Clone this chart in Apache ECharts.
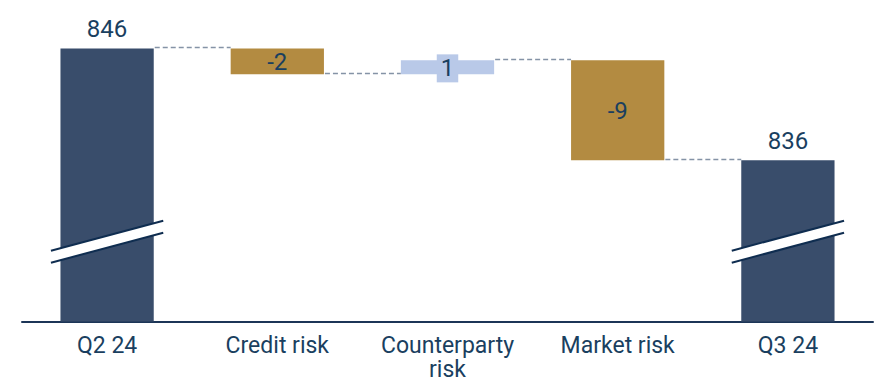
<!DOCTYPE html>
<html>
<head>
<meta charset="utf-8">
<script src="https://cdn.jsdelivr.net/npm/echarts@6/dist/echarts.min.js"></script>
<style>
html,body{margin:0;padding:0;background:#fff;}
#chart{width:882px;height:383px;}
</style>
</head>
<body>
<div id="chart"></div>
<script>
// ---- data ----
const categories = ['Q2 24', 'Credit risk', 'Counterparty\nrisk', 'Market risk', 'Q3 24'];
const values = [846, -2.32, 1.25, -8.93, 836];
const kinds = ['total', 'delta', 'delta', 'delta', 'total'];

// ---- styling / scale ----
const axisMin = 821.6;
const axisMax = 848;
const breakValue = 828.73;
const NAVY = '#394d6b';
const GOLD = '#b38b41';
const LIGHT = '#b9c9e8';
const TEXT = '#1a3f5f';
const FONT = 'Roboto';

// build waterfall items from data
const items = [];
let running = 0;
values.forEach((v, i) => {
  let low, high, end;
  if (kinds[i] === 'total') {
    low = axisMin; high = v; end = v; running = v;
  } else {
    const start = running;
    end = running + v;
    low = Math.min(start, end); high = Math.max(start, end);
    running = end;
  }
  items.push([i, low, high, end, v, kinds[i] === 'total' ? 1 : 0]);
});

function fillFor(i, v, tot) {
  if (tot) return NAVY;
  return v < 0 ? GOLD : LIGHT;
}

function renderItem(params, api) {
  const i = api.value(0), low = api.value(1), high = api.value(2);
  const end = api.value(3), v = api.value(4), tot = api.value(5);
  const bandW = api.size([1, 0])[0];
  const barW = bandW * 0.548;
  const pTop = api.coord([i, high]);
  const pBot = api.coord([i, low]);
  const x0 = pTop[0] - barW / 2;
  const fill = fillFor(i, v, tot);
  const children = [];
  children.push({
    type: 'rect',
    shape: { x: x0, y: pTop[1], width: barW, height: pBot[1] - pTop[1] },
    style: { fill: fill }
  });
  // connector to next bar
  if (i < categories.length - 1) {
    const nxt = api.coord([i + 1, end]);
    const y = Math.round(nxt[1]) - 0.5;
    children.push({
      type: 'line',
      shape: { x1: x0 + barW + 1, y1: y, x2: nxt[0] - barW / 2, y2: y },
      style: { stroke: '#8593a6', lineWidth: 1.6, lineDash: [5, 3] }
    });
  }
  // break marks for totals
  if (tot) {
    const cx = pTop[0];
    const cy = api.coord([i, breakValue])[1];
    const hw = barW / 2 + 9.5;
    const dy = 15, g = 6;
    children.push({
      type: 'polygon',
      shape: { points: [[cx - hw, cy + dy - g], [cx + hw, cy - dy - g], [cx + hw, cy - dy + g], [cx - hw, cy + dy + g]] },
      style: { fill: '#ffffff' }
    });
    children.push({
      type: 'line',
      shape: { x1: cx - hw, y1: cy + dy - g, x2: cx + hw, y2: cy - dy - g },
      style: { stroke: '#0f2d50', lineWidth: 2 }
    });
    children.push({
      type: 'line',
      shape: { x1: cx - hw, y1: cy + dy + g, x2: cx + hw, y2: cy - dy + g },
      style: { stroke: '#0f2d50', lineWidth: 2 }
    });
  }
  // value label
  const label = String(Math.round(v));
  if (tot) {
    children.push({
      type: 'text',
      style: {
        text: label, x: pTop[0], y: pTop[1] - 7,
        align: 'center', verticalAlign: 'bottom',
        fill: TEXT, fontSize: 24, fontFamily: FONT
      }
    });
  } else {
    const st = {
      text: label, x: pTop[0], y: (pTop[1] + pBot[1]) / 2 + 1,
      align: 'center', verticalAlign: 'middle',
      fill: TEXT, fontSize: 24, fontFamily: FONT
    };
    if (v > 0) {
      st.backgroundColor = fill;
      st.padding = [2, 4, 2, 4];
    }
    children.push({ type: 'text', style: st });
  }
  return { type: 'group', children: children };
}

const chart = echarts.init(document.getElementById('chart'), null, { renderer: 'svg' });
chart.setOption({
  animation: false,
  backgroundColor: '#ffffff',
  grid: { left: 22, right: 9, top: 26, bottom: 61.5, containLabel: false, outerBoundsMode: 'none' },
  xAxis: {
    type: 'category',
    data: categories,
    axisLine: { show: true, lineStyle: { color: '#1c3557', width: 2 } },
    axisTick: { show: false },
    axisLabel: {
      interval: 0, color: TEXT, fontSize: 23, fontFamily: FONT,
      lineHeight: 24.5, margin: 11.5, hideOverlap: false
    }
  },
  yAxis: {
    type: 'value', min: axisMin, max: axisMax, show: false,
    splitLine: { show: false }
  },
  series: [{
    type: 'custom',
    renderItem: renderItem,
    clip: false,
    encode: { x: 0, y: [1, 2] },
    data: items,
    z: 3
  }]
});
</script>
</body>
</html>
